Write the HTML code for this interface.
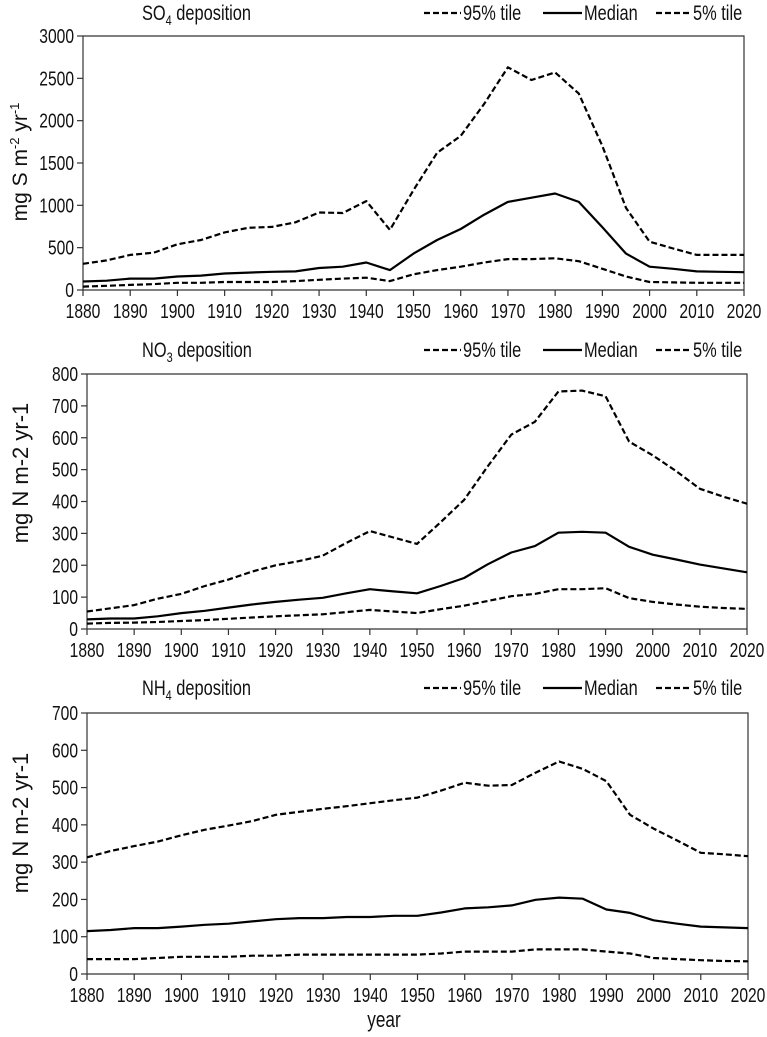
<!DOCTYPE html>
<html><head><meta charset="utf-8"><style>
html,body{margin:0;padding:0;background:#fff;}
svg text{font-family:"Liberation Sans",sans-serif;fill:#111;}
</style></head><body>
<svg id="chart" width="767" height="1032" viewBox="0 0 767 1032" xmlns="http://www.w3.org/2000/svg"></svg>
<script>
const years = [1880,1885,1890,1895,1900,1905,1910,1915,1920,1925,1930,1935,1940,1945,1950,1955,1960,1965,1970,1975,1980,1985,1990,1995,2000,2005,2010,2015,2020];
const xTicks = [1880,1890,1900,1910,1920,1930,1940,1950,1960,1970,1980,1990,2000,2010,2020];

const so4P95 = [310,350,415,440,540,590,680,735,745,800,915,910,1050,710,1180,1620,1820,2200,2630,2480,2570,2320,1700,970,570,490,415,415,415];
const so4Median = [100,110,135,135,160,170,195,205,215,220,260,275,325,235,430,590,720,890,1040,1090,1140,1040,740,430,275,250,220,215,210];
const so4P5 = [40,50,60,70,85,85,95,95,95,105,120,135,145,105,185,235,275,325,365,365,375,340,250,160,95,90,85,85,85];
const so4YTicks = [0,500,1000,1500,2000,2500,3000];

const no3P95 = [55,65,75,95,110,135,155,180,200,213,230,270,307,287,267,335,405,510,610,650,745,748,730,588,545,495,440,415,393];
const no3Median = [30,33,33,40,50,57,67,77,85,92,98,112,125,118,112,135,160,203,240,260,302,305,302,258,233,218,202,190,178];
const no3P5 = [17,19,20,22,25,28,32,36,40,43,46,53,60,55,50,62,73,88,103,110,125,125,128,97,85,77,70,66,63];
const no3YTicks = [0,100,200,300,400,500,600,700,800];

const nh4P95 = [313,330,343,355,372,387,398,410,427,435,443,450,458,466,473,492,513,505,507,540,570,550,517,427,390,358,325,321,316];
const nh4Median = [115,118,123,123,127,132,135,141,147,150,150,153,153,156,156,165,176,179,184,199,205,202,173,164,144,135,127,125,123];
const nh4P5 = [40,40,40,43,46,46,46,49,49,52,52,52,52,52,52,55,60,60,60,66,66,66,60,55,43,40,37,35,34];
const nh4YTicks = [0,100,200,300,400,500,600,700];

const svg = document.getElementById('chart');
const NS = 'http://www.w3.org/2000/svg';
const narrowList = [];
function mk(tag, attrs, parent){
  const e = document.createElementNS(NS, tag);
  for (const k in attrs) e.setAttribute(k, attrs[k]);
  parent.appendChild(e);
  return e;
}
function narrow(t){ narrowList.push(t); return t; }

function panel(cfg){
  const g = mk('g', {}, svg);
  
  
  const xS = v => cfg.x0 + (v - 1880) / 140 * (cfg.x1 - cfg.x0);
  const yS = v => cfg.y1 - v / cfg.yMax * (cfg.y1 - cfg.y0);
  const ax = mk('path', {d:`M${cfg.x0},${cfg.y0} H${cfg.x1} V${cfg.y1} H${cfg.x0} Z`, fill:'none', stroke:'#333', 'stroke-width':1.2}, g);
  
  
  cfg.yTicks.forEach(t => {
    const y = yS(t);
    mk('line', {x1:cfg.x0-6, x2:cfg.x0, y1:y, y2:y, stroke:'#333', 'stroke-width':1.2}, g);
    const tx = mk('text', {x:cfg.x0-9, y:y+7, 'text-anchor':'end', 'font-size':20}, g);
    tx.textContent = t;
    
    
    narrow(tx);
  });
  xTicks.forEach(t => {
    const x = xS(t);
    mk('line', {x1:x, x2:x, y1:cfg.y1, y2:cfg.y1+6, stroke:'#333', 'stroke-width':1.2}, g);
    const tx = mk('text', {x:x, y:cfg.y1+28, 'text-anchor':'middle', 'font-size':20}, g);
    tx.textContent = t;
    
    
    narrow(tx);
  });
  const series = [[cfg.p95,'6 3','p95'],[cfg.med,'','median'],[cfg.p5,'6 3','p5']];
  series.forEach(([vals,dash,nm]) => {
    const d = vals.map((v,i)=>(i?'L':'M')+xS(years[i]).toFixed(1)+','+yS(v).toFixed(1)).join(' ');
    const p = mk('path', {d:d, fill:'none', stroke:'#000', 'stroke-width':2.2, 'stroke-linejoin':'round'}, g);
    if (dash) p.setAttribute('stroke-dasharray', dash);
    
    
  });
  const yt = mk('text', {x:0, y:0, 'text-anchor':'middle', 'font-size':cfg.ytSize, transform:`translate(${cfg.ytx},${cfg.yty}) rotate(-90)`}, g);
  yt.innerHTML = cfg.ytitle;
  
  
  const tt = mk('text', {x:142, y:cfg.ly+7, 'font-size':21}, g);
  tt.innerHTML = cfg.title;
  
  
  narrow(tt);
  const leg = [[424,461,'6 3','95% tile','p95'],[543,582,'','Median','median'],[656,691,'6 3','5% tile','p5']];
  leg.forEach(([a,b,dash,label,nm]) => {
    const lg = mk('g', {}, g);
    
    
    const l = mk('line', {x1:a, x2:b, y1:cfg.ly, y2:cfg.ly, stroke:'#000', 'stroke-width':2.2}, lg);
    if (dash) l.setAttribute('stroke-dasharray', dash);
    const t = mk('text', {x:b+2, y:cfg.ly+7, 'font-size':21}, lg);
    t.textContent = label;
    narrow(t);
  });
}

panel({name:'so4', x0:83, x1:744, y0:36, y1:290, yMax:3000, yTicks:so4YTicks, p95:so4P95, med:so4Median, p5:so4P5,
  title:'SO<tspan font-size="14" dy="5">4</tspan><tspan dy="-5"> deposition</tspan>', ly:13, ytx:27, yty:162, ytSize:21,
  ytitle:'mg S m<tspan font-size="13" dy="-8">-2</tspan><tspan dy="8"> yr</tspan><tspan font-size="13" dy="-8">-1</tspan>'});
panel({name:'no3', x0:87, x1:747, y0:374, y1:629, yMax:800, yTicks:no3YTicks, p95:no3P95, med:no3Median, p5:no3P5,
  title:'NO<tspan font-size="14" dy="5">3</tspan><tspan dy="-5"> deposition</tspan>', ly:350, ytx:28, yty:473, ytSize:22,
  ytitle:'mg N m-2 yr-1'});
panel({name:'nh4', x0:87, x1:748, y0:713, y1:974, yMax:700, yTicks:nh4YTicks, p95:nh4P95, med:nh4Median, p5:nh4P5,
  title:'NH<tspan font-size="14" dy="5">4</tspan><tspan dy="-5"> deposition</tspan>', ly:688, ytx:28, yty:823, ytSize:22,
  ytitle:'mg N m-2 yr-1'});

const xt = mk('text', {x:384, y:1027, 'text-anchor':'middle', 'font-size':22}, svg);
xt.textContent = 'year';


narrow(xt);

narrowList.forEach(t => {
  const w = t.getComputedTextLength();
  t.setAttribute('textLength', (w * 0.78).toFixed(1));
  t.setAttribute('lengthAdjust', 'spacingAndGlyphs');
});
</script>
</body></html>
